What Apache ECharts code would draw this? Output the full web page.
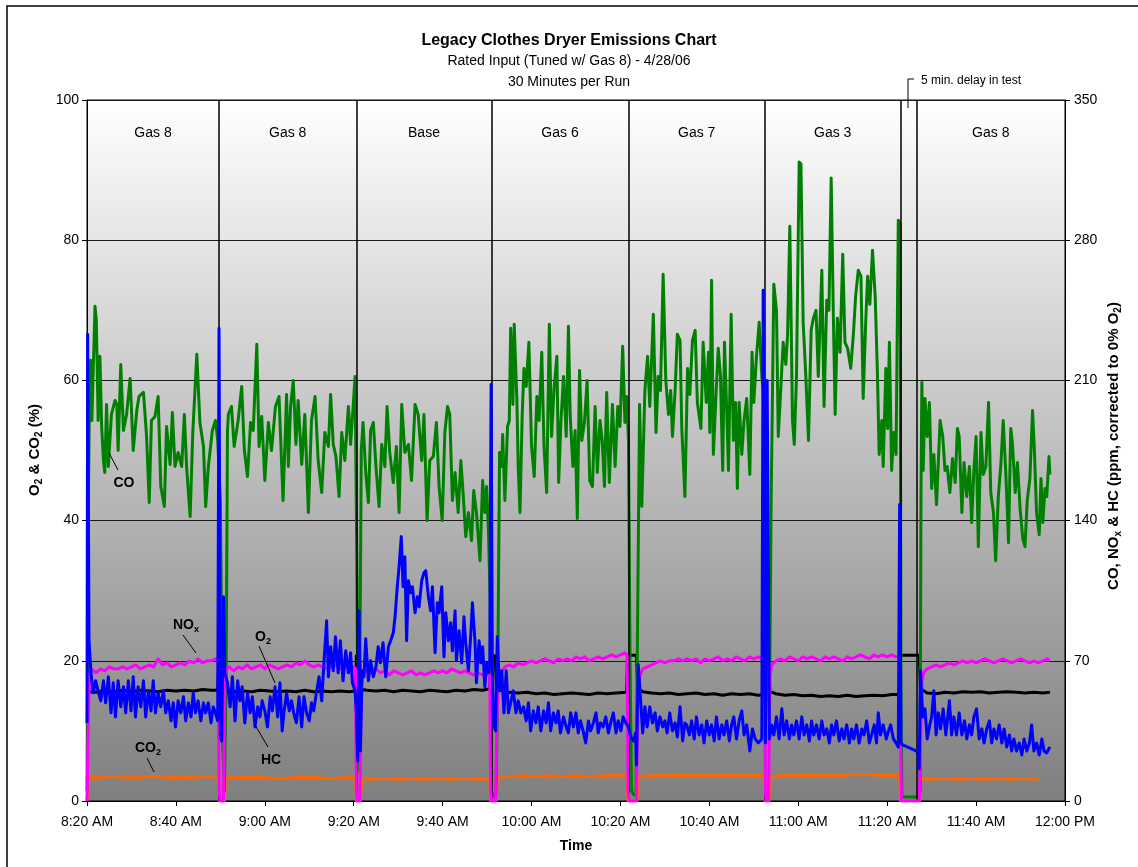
<!DOCTYPE html>
<html>
<head>
<meta charset="utf-8">
<script src="https://cdn.jsdelivr.net/npm/echarts@6/dist/echarts.min.js"></script>
<style>
  html, body { margin: 0; padding: 0; background: #fff; }
  #chart { width: 1138px; height: 867px; }
</style>
</head>
<body>
<div id="chart"></div>
<script>
// Clock time of the first sample, in minutes after midnight (8:20 AM).
const START = 500;

// Run boundaries and run names (minutes after 8:20 AM).
const runStarts = [0, 29.7, 60.6, 91.0, 121.8, 152.5, 186.6];
const runEnds   = [29.7, 60.6, 91.0, 121.8, 152.5, 183.0, 220];
const runNames  = ['Gas 8', 'Gas 8', 'Base', 'Gas 6', 'Gas 7', 'Gas 3', 'Gas 8'];
const boundaries = [29.7, 60.6, 91.0, 121.8, 152.5, 183.0, 186.6];

// CO, ppm (corrected to 0% O2)
const coT = [0.0,0.3,0.5,0.8,1.1,1.4,1.8,2.1,2.5,2.9,3.3,3.7,4.0,4.4,4.8,5.5,6.3,6.7,7.0,7.6,8.2,8.9,9.7,10.4,11.2,11.7,12.7,13.4,14.0,14.5,15.3,16.0,16.6,17.4,17.9,18.7,19.2,19.8,20.5,21.3,21.9,22.4,23.2,23.8,24.7,25.4,26.2,26.7,27.3,28.2,28.9,29.4,30.0,30.5,30.9,31.3,31.6,31.8,32.5,33.1,34.0,34.8,35.4,36.1,36.8,37.4,38.2,38.7,39.3,40.0,40.8,41.5,42.4,43.2,44.1,44.9,45.3,45.8,46.4,47.0,47.5,48.3,49.0,49.8,50.5,51.3,52.0,52.8,53.5,54.3,54.8,55.4,56.0,56.7,57.3,58.0,58.8,59.3,59.9,60.3,60.7,61.0,61.3,61.7,62.1,62.7,63.3,63.8,64.4,65.0,65.7,66.3,67.0,67.5,68.1,68.9,69.6,70.2,70.8,71.5,72.3,73.0,73.8,74.5,75.3,75.8,76.5,77.1,77.9,78.6,79.2,79.9,80.5,81.1,81.6,82.2,82.8,83.5,84.1,84.6,85.2,85.8,86.5,87.0,87.6,88.4,89.0,89.5,89.9,90.3,90.7,91.0,91.5,92.0,92.4,92.8,93.3,93.5,94.0,94.6,95.0,95.3,95.8,96.1,96.7,97.0,97.4,97.9,98.3,98.8,99.4,100.0,100.6,101.2,101.7,102.3,102.8,103.4,104.0,104.5,105.1,105.7,106.1,106.6,107.2,107.8,108.3,108.7,109.3,109.8,110.3,110.8,111.3,111.9,112.5,113.1,113.7,114.3,114.8,115.4,115.9,116.4,116.9,117.5,118.2,118.8,119.4,119.9,120.5,121.0,121.4,121.8,122.2,122.5,123.0,123.5,123.9,124.3,124.8,125.5,126.1,126.6,127.4,128.0,128.5,129.0,129.6,130.2,130.8,131.3,131.7,132.3,132.8,133.4,133.8,134.5,135.1,135.6,136.2,136.8,137.3,138.1,138.6,139.3,139.8,140.1,140.5,140.9,141.5,142.0,142.5,143.0,143.4,143.9,144.3,144.9,145.4,145.9,146.3,146.7,147.3,147.8,148.4,149.1,149.6,150.0,150.6,151.2,151.8,152.3,152.8,153.2,153.5,153.9,154.5,155.1,155.5,156.0,156.6,157.2,157.6,158.1,158.7,159.1,159.6,160.2,160.6,161.1,161.7,162.3,162.9,163.4,164.0,164.5,165.3,165.8,166.4,166.9,167.4,167.9,168.3,168.8,169.4,170.0,170.5,171.1,171.8,172.4,172.9,173.5,174.1,174.6,175.2,175.6,176.1,176.7,177.3,177.8,178.2,178.8,179.1,179.7,180.1,180.5,181.0,181.5,182.0,182.5,182.9,183.1,183.3,184.0,185.0,186.0,187.0,187.4,187.6,187.8,188.1,188.5,189.0,189.5,190.0,190.5,191.1,191.9,192.5,193.0,193.5,194.1,194.7,195.3,195.8,196.2,196.8,197.3,197.9,198.5,199.0,199.5,200.0,200.5,201.1,201.6,202.2,202.8,203.3,203.9,204.4,205.0,205.6,206.1,206.7,207.3,207.8,208.2,208.8,209.3,209.9,210.5,211.0,211.5,212.1,212.7,213.1,213.6,214.2,214.6,215.0,215.5,215.9,216.4,216.6];
const coV = [5,150,188,220,190,215,247,240,190,222,187,170,164,198,167,193,200,198,175,218,185,193,211,175,195,202,204,182,149,190,192,202,157,147,187,168,194,167,174,167,193,167,142,184,223,189,177,147,167,185,190,180,150,30,5,60,185,193,197,177,190,207,175,162,189,185,228,177,192,160,189,175,197,202,150,203,167,197,210,178,200,168,193,144,190,202,170,154,184,177,203,178,172,152,184,170,197,178,198,212,120,15,40,175,189,164,149,185,189,167,147,178,167,197,174,159,177,144,198,174,178,160,198,193,170,193,140,170,172,189,157,140,184,197,193,150,164,144,170,154,132,144,130,155,144,120,160,144,157,135,100,5,2,3,60,174,167,183,150,187,190,236,198,238,200,167,144,193,216,207,229,177,162,202,190,224,177,154,238,182,207,222,159,189,212,182,237,192,167,185,141,215,180,189,210,160,157,197,164,190,180,157,204,159,198,167,197,187,227,189,202,180,60,5,3,3,100,198,147,205,222,197,243,184,212,205,263,210,193,205,182,205,233,230,186,152,216,203,230,235,199,186,229,199,224,184,260,173,203,226,212,165,229,195,165,243,180,199,156,199,173,190,201,163,224,199,222,239,212,200,150,60,40,150,258,245,182,203,229,218,233,287,190,178,212,319,318,239,212,180,235,241,245,212,265,197,250,245,311,241,193,241,224,273,229,226,216,233,252,265,262,201,241,262,248,275,252,214,173,190,167,216,186,229,165,184,173,290,288,60,2,2,2,2,2,5,150,209,165,201,182,199,156,173,148,190,182,165,167,154,171,159,186,182,144,169,152,167,139,165,182,127,184,163,167,199,154,144,120,152,169,190,163,129,186,178,154,169,146,131,127,150,161,195,176,144,133,161,139,156,152,172,163];

// NOx, ppm (corrected to 0% O2)
const noxT = [0.0,0.3,0.6,1,2,3,4,5,6,7,8,9,10,11,12,13,14,15,16,17,18,19,20,21,22,23,24,25,26,27,28,29,29.5,29.7,30.0,30.7,31.0,31.5,32,33,34,35,36,37,38,39,40,41,42,43,44,45,46,47,48,49,50,51,52,53,54,55,56,57,58,59,60,60.4,60.6,60.8,61.4,61.7,62,63,64,65,66,67,68,69,70,71,72,73,74,75,76,77,78,79,80,81,82,83,84,85,86,87,88,89,90,90.6,90.8,91.0,91.9,92.2,92.6,93,94,95,96,97,98,99,100,101,102,103,104,105,106,107,108,109,110,111,112,113,114,115,116,117,118,119,120,121,121.5,121.7,122.0,123.6,123.9,124.3,125,126,127,128,129,130,131,132,133,134,135,136,137,138,139,140,141,142,143,144,145,146,147,148,149,150,151,152,152.4,152.6,152.8,153.3,153.6,154,155,156,157,158,159,160,161,162,163,164,165,166,167,168,169,170,171,172,173,174,175,176,177,178,179,180,181,182,182.8,183.0,183.2,187.2,187.4,187.8,188.2,189,190,191,192,193,194,195,196,197,198,199,200,201,202,203,204,205,206,207,208,209,210,211,212,213,214,215,216,216.6];
const noxV = [0,40,64,66,64,66,65,67,66,66,67,66,67,68,66,67,68,67,71,68,69,67,68,69,68,70,69,71,69,70,70,71,70,5,0,0,62,66,67,65,67,66,68,66,67,68,66,68,67,66,67,68,67,69,68,70,68,67,68,67,66,67,68,66,67,66,67,66,5,0,0,60,64,65,64,66,64,65,63,65,64,63,64,65,63,64,63,64,65,64,65,64,66,65,64,65,64,63,64,63,63,63,5,0,0,40,60,64,67,68,67,69,68,69,70,69,70,71,70,69,71,70,71,70,72,71,72,70,71,72,71,72,73,72,73,74,73,5,0,0,50,62,66,67,68,69,70,69,70,70,71,70,71,70,71,69,71,70,71,72,70,71,70,72,71,70,72,71,72,71,72,5,0,0,62,68,70,71,70,72,71,70,72,71,72,71,70,72,71,72,71,70,72,71,72,73,72,71,73,72,73,72,73,72,72,30,0,0,16,60,64,66,67,68,67,68,69,68,69,70,69,70,69,70,71,70,69,70,71,70,69,70,71,70,69,70,69,70,71,70];

// HC, ppm (corrected to 0% O2)
const hcT = [0.0,0.15,0.45,0.9,1.4,1.95,2.5,3.1,3.7,4.2,4.8,5.4,5.9,6.4,7.0,7.6,8.2,8.7,9.3,9.9,10.4,10.9,11.5,12.1,12.7,13.2,13.8,14.4,14.9,15.4,16.0,16.6,17.2,17.7,18.3,18.9,19.4,19.9,20.5,21.1,21.7,22.2,22.8,23.4,23.9,24.4,25.0,25.6,26.2,26.7,27.3,27.9,28.4,28.9,29.4,29.7,30.0,30.3,30.7,31.0,31.6,32.2,32.7,33.3,33.9,34.4,34.9,35.5,36.1,36.7,37.2,37.8,38.4,38.9,39.4,40.0,40.6,41.2,41.7,42.3,42.9,43.4,43.9,44.3,44.9,45.5,46.0,46.5,47.1,47.7,48.3,48.8,49.4,50.0,50.5,51.0,51.6,52.2,52.8,53.3,53.9,54.3,54.8,55.4,55.9,56.5,57.0,57.6,58.2,58.8,59.3,59.7,60.3,60.6,60.9,61.2,61.5,61.9,62.3,62.7,63.3,63.8,64.4,65.0,65.5,66.0,66.6,67.2,67.8,68.3,68.9,69.3,69.8,70.2,70.7,71.1,71.5,71.9,72.3,72.8,73.2,73.8,74.3,74.7,75.3,75.8,76.2,76.8,77.3,77.7,78.3,78.8,79.2,79.8,80.3,80.7,81.3,81.8,82.2,82.8,83.1,83.7,84.3,84.8,85.2,85.8,86.3,86.7,87.3,87.6,88.2,88.6,89.0,89.5,89.9,90.3,90.6,90.9,91.2,91.5,91.9,92.3,92.8,93.3,93.8,94.3,94.8,95.3,95.9,96.5,97.0,97.6,98.2,98.8,99.3,99.8,100.4,101.0,101.5,102.1,102.7,103.3,103.8,104.3,104.9,105.5,106.0,106.5,107.2,107.8,108.3,108.8,109.4,110.0,110.5,111.0,111.6,112.2,112.8,113.3,113.9,114.5,115.0,115.5,116.1,116.7,117.3,117.8,118.4,119.0,119.5,120.1,120.6,121.2,121.8,122.3,122.9,123.4,123.6,124.0,124.4,125.0,125.5,126.0,126.6,127.2,127.8,128.3,128.9,129.5,130.0,130.5,131.1,131.7,132.3,132.8,133.4,134.0,134.5,134.9,135.5,136.0,136.6,137.1,137.7,138.3,138.8,139.4,140.0,140.5,141.1,141.6,142.2,142.8,143.3,143.9,144.5,145.0,145.5,146.1,146.7,147.3,147.8,148.4,149.1,149.7,150.3,151.0,151.8,152.1,152.6,153.0,153.5,154.0,154.5,155.1,155.7,156.3,156.8,157.4,158.0,158.5,159.0,159.6,160.2,160.8,161.3,161.9,162.5,163.0,163.5,164.1,164.7,165.3,165.8,166.4,167.0,167.5,168.0,168.6,169.2,169.8,170.3,170.9,171.5,172.0,172.5,173.1,173.7,174.3,174.8,175.4,176.0,176.5,177.1,177.6,178.0,178.5,179.1,179.8,180.3,180.8,181.4,182.0,182.5,182.8,183.1,183.5,184.5,185.5,186.5,187.0,187.2,187.5,188.0,188.5,189.0,189.6,190.0,190.5,191.0,191.5,192.0,192.6,193.2,194.0,194.5,195.0,195.6,196.2,196.8,197.4,197.9,198.5,199.0,199.5,200.1,200.7,201.3,201.8,202.4,203.0,203.5,204.0,204.6,205.2,205.8,206.3,206.9,207.5,208.0,208.5,209.1,209.7,210.3,210.8,211.4,212.0,212.5,213.0,213.6,214.2,214.8,215.3,215.9,216.6];
const hcV = [39,233,80,64,54,60,55,50,60,49,62,44,59,42,60,47,57,44,60,45,62,42,57,47,60,42,55,45,60,44,54,47,55,44,50,40,49,37,50,44,52,40,49,42,54,44,50,40,49,44,49,39,47,44,40,236,32,30,102,64,59,47,62,40,60,50,57,39,54,44,52,37,47,42,50,45,37,52,45,57,42,59,35,44,54,45,50,44,39,52,37,52,44,40,49,45,54,62,50,69,90,62,77,65,82,64,80,60,75,64,74,59,55,44,20,95,25,65,62,81,60,70,62,67,77,69,79,62,77,80,84,92,107,117,132,107,122,80,110,104,107,94,102,97,110,114,115,102,95,107,74,99,94,107,72,94,80,89,75,95,70,85,69,92,79,65,82,99,79,59,80,69,77,57,69,64,67,208,60,38,35,82,55,65,44,65,44,49,55,44,50,44,47,40,49,35,45,39,47,35,45,39,49,35,44,39,45,34,42,37,34,44,37,44,34,40,35,29,40,35,39,44,34,39,37,42,34,39,44,34,40,35,42,39,37,32,30,34,18,68,55,34,47,37,47,39,44,35,42,37,40,34,44,35,39,32,47,30,39,38,33,40,31,42,33,38,29,40,33,38,30,42,31,38,33,40,30,38,42,31,40,45,33,38,25,36,31,29,31,255,29,210,31,38,33,42,31,46,33,40,31,38,33,40,31,42,33,38,30,40,33,38,31,40,33,36,29,38,33,40,30,36,31,38,29,36,31,38,29,36,33,40,29,33,38,29,44,33,38,31,35,38,31,29,27,148,29,28,27,26,25,24,16,65,42,46,31,38,42,55,33,44,36,46,33,50,33,42,33,44,33,40,31,38,33,42,46,31,36,29,36,40,29,36,31,38,29,36,27,33,25,31,25,29,23,31,25,29,38,25,29,23,31,25,24,27];

// O2, percent
const o2T = [0.5,2,4,6,8,10,12,14,16,18,20,22,24,26,28,29.4,29.7,30.5,30.9,31.5,33,35,37,39,41,43,45,47,49,51,53,55,57,59,60.4,60.6,61.3,61.6,63,65,67,69,71,73,75,77,79,81,83,85,87,89,90.6,90.8,91.8,92.1,93,95,97,99,101,103,105,107,109,111,113,115,117,119,121.4,121.6,123.6,123.9,125,127,129,131,133,135,137,139,141,143,145,147,149,151,152.3,152.5,153.3,153.6,155,157,159,161,163,165,167,169,171,173,175,177,179,181,182.8,183.0,187.2,187.5,189,191,193,195,197,199,201,203,205,207,209,211,213,215,216.6];
const o2V = [15.6,15.5,15.7,15.6,15.8,15.6,15.8,15.7,15.6,15.8,15.7,15.8,15.7,15.9,15.8,15.8,20.7,20.8,16.0,15.8,15.6,15.7,15.6,15.8,15.7,15.6,15.7,15.6,15.8,15.6,15.7,15.6,15.7,15.6,15.7,20.7,20.7,15.9,15.8,15.7,15.8,15.6,15.8,15.7,15.6,15.8,15.7,15.6,15.8,15.7,15.9,15.8,16.0,20.7,20.7,16.2,15.8,15.5,15.4,15.5,15.3,15.4,15.2,15.3,15.4,15.3,15.2,15.4,15.3,15.4,15.5,20.8,20.8,16.0,15.6,15.4,15.3,15.4,15.2,15.3,15.4,15.2,15.3,15.1,15.3,15.2,15.3,15.1,15.2,20.7,20.7,15.6,15.3,15.1,15.2,15.0,15.1,14.9,15.0,14.9,15.1,14.9,15.0,15.1,15.0,15.2,15.2,20.8,20.8,16.0,15.4,15.3,15.5,15.4,15.6,15.5,15.6,15.4,15.5,15.6,15.5,15.4,15.5,15.4,15.5];

// CO2, percent
const co2T = [0.0,0.4,3,6,9,12,15,18,21,24,27,29.5,29.7,30.9,31.2,34,37,40,43,46,49,52,55,58,60.4,60.6,61.5,61.8,64,67,70,73,76,79,82,85,88,90.6,90.8,92.0,92.3,95,98,101,104,107,110,113,116,119,121.5,121.7,123.7,124.0,127,130,133,136,139,142,145,148,151,152.3,152.5,153.4,153.7,156,159,162,165,168,171,174,177,180,182.8,183.0,187.3,187.6,190,193,196,199,202,205,208,211,214,216.6];
const co2V = [0,3.3,3.4,3.5,3.4,3.4,3.5,3.4,3.3,3.4,3.5,3.4,0,0,3.3,3.3,3.4,3.3,3.2,3.3,3.4,3.3,3.2,3.3,3.3,0,0,3.2,3.1,3.2,3.1,3.2,3.1,3.2,3.1,3.2,3.1,3.2,0,0,3.4,3.5,3.6,3.5,3.6,3.5,3.6,3.5,3.6,3.6,3.6,0,0,3.5,3.6,3.7,3.6,3.7,3.6,3.7,3.6,3.7,3.6,3.6,0,0,3.5,3.6,3.7,3.6,3.7,3.6,3.7,3.8,3.7,3.6,3.7,0,0,3.2,3.1,3.2,3.1,3.2,3.1,3.2,3.1,3.2,3.1];

// Axis scales and tick labels
const xMin = 500, xMax = 720, xStep = 20;
const leftMax = 100, leftStep = 20;
const rightMax = 350, rightStep = 70;
const runLabelLevel = 95.3;   // O2 & CO2 scale position of the run names

const FONT = '"Liberation Sans", Arial, Helvetica, sans-serif';

function pairs(t, v) { return t.map((m, i) => [START + m, v[i]]); }

function clock(min) {
  let h = Math.floor(min / 60), m = Math.round(min % 60);
  const ap = h >= 12 ? 'PM' : 'AM';
  if (h > 12) h -= 12;
  return h + ':' + (m < 10 ? '0' : '') + m + ' ' + ap;
}

const chart = echarts.init(document.getElementById('chart'), null, { renderer: 'canvas' });

const lineSeries = (name, t, v, color, yIndex, z) => ({
  name, type: 'line', xAxisIndex: 0, yAxisIndex: yIndex,
  data: pairs(t, v), showSymbol: false, symbol: 'none', sampling: null,
  lineStyle: { color, width: 3, join: 'round' }, itemStyle: { color },
  z, animation: false, silent: true
});

const runLabelData = runNames.map((n, i) => ({
  value: [START + (runStarts[i] + runEnds[i]) / 2, runLabelLevel], name: n
}));

const subRich = (color, size) => ({
  a: { fontFamily: FONT, fontSize: size, fontWeight: 'bold', color, lineHeight: size + 4 },
  s: { fontFamily: FONT, fontSize: Math.round(size * 0.65), fontWeight: 'bold', color,
       lineHeight: Math.round(size * 0.65), verticalAlign: 'bottom' }
});

const leader = (x1, y1, x2, y2) => ({
  type: 'line', silent: true, z: 100,
  shape: { x1, y1, x2, y2 }, style: { stroke: '#000', lineWidth: 1 }
});
const tag = (x, y, text, color) => ({
  type: 'text', silent: true, z: 100, x, y,
  style: { text, rich: subRich(color, 14), align: 'center', verticalAlign: 'middle' }
});

const option = {
  animation: false,
  backgroundColor: '#ffffff',
  title: {
    text: 'Legacy Clothes Dryer Emissions Chart',
    subtext: 'Rated Input (Tuned w/ Gas 8) - 4/28/06\n30 Minutes per Run',
    left: 'center', top: 28, itemGap: 2,
    textStyle: { fontFamily: FONT, fontSize: 16, fontWeight: 'bold', color: '#000' },
    subtextStyle: { fontFamily: FONT, fontSize: 14, color: '#000', lineHeight: 21 }
  },
  grid: {
    left: 87, right: 73, top: 100, bottom: 66, show: true,
    borderColor: '#000', borderWidth: 1,
    backgroundColor: new echarts.graphic.LinearGradient(0, 0, 0, 1, [
      { offset: 0, color: '#ffffff' }, { offset: 1, color: '#7f7f7f' }
    ])
  },
  xAxis: {
    type: 'value', min: xMin, max: xMax, interval: xStep,
    name: 'Time', nameLocation: 'middle', nameGap: 38,
    nameTextStyle: { fontFamily: FONT, fontSize: 14, fontWeight: 'bold', color: '#000' },
    axisLine: { onZero: false, lineStyle: { color: '#000', width: 1 } },
    axisTick: { inside: false, length: 5, lineStyle: { color: '#000' } },
    axisLabel: { fontFamily: FONT, fontSize: 14, color: '#000', margin: 14,
      showMinLabel: true, showMaxLabel: true, formatter: v => clock(v) },
    splitLine: { show: false }
  },
  yAxis: [
    {
      type: 'value', min: 0, max: leftMax, interval: leftStep, position: 'left',
      axisLine: { show: true, lineStyle: { color: '#000', width: 1 } },
      axisTick: { show: true, length: 5, lineStyle: { color: '#000' } },
      axisLabel: { fontFamily: FONT, fontSize: 14, color: '#000', margin: 8 },
      splitLine: { show: true, lineStyle: { color: '#1a1a1a', width: 1 } }
    },
    {
      type: 'value', min: 0, max: rightMax, interval: rightStep, position: 'right',
      axisLine: { show: true, lineStyle: { color: '#000', width: 1 } },
      axisTick: { show: true, length: 5, lineStyle: { color: '#000' } },
      axisLabel: { fontFamily: FONT, fontSize: 14, color: '#000', margin: 9 },
      splitLine: { show: false }
    }
  ],
  series: [
    {
      name: 'runs', type: 'scatter', xAxisIndex: 0, yAxisIndex: 0,
      data: runLabelData, symbolSize: 0, silent: true, z: 1,
      itemStyle: { opacity: 1, color: 'rgba(0,0,0,0)' },
      label: { show: true, position: 'inside', formatter: p => p.name, opacity: 1,
        fontFamily: FONT, fontSize: 14, color: '#000000' },
      markLine: {
        silent: true, symbol: 'none', animation: false,
        lineStyle: { color: '#000', width: 1.5, type: 'solid' },
        label: { show: false },
        data: boundaries.map(b => ({ xAxis: START + b }))
      }
    },
    lineSeries('O2', o2T, o2V, '#000000', 0, 3),
    lineSeries('CO2', co2T, co2V, '#ff6600', 0, 3),
    lineSeries('CO', coT, coV, '#008000', 1, 4),
    lineSeries('NOx', noxT, noxV, '#ff00ff', 1, 5),
    lineSeries('HC', hcT, hcV, '#0000ff', 1, 6)
  ],
  graphic: [
    // outer frame
    { type: 'rect', silent: true, z: 0, shape: { x: 7, y: 6, width: 1145, height: 875 },
      style: { fill: null, stroke: '#000', lineWidth: 1.5 } },
    // axis titles
    { type: 'text', silent: true, x: 35, y: 450, rotation: Math.PI / 2,
      style: { text: '{a|O}{s|2}{a| & CO}{s|2}{a| (%)}', rich: subRich('#000', 15),
        align: 'center', verticalAlign: 'middle' } },
    { type: 'text', silent: true, x: 1114, y: 446, rotation: Math.PI / 2,
      style: { text: '{a|CO, NO}{s|x}{a| & HC (ppm, corrected to 0% O}{s|2}{a|)}', rich: subRich('#000', 15),
        align: 'center', verticalAlign: 'middle' } },
    // delay note
    { type: 'polyline', silent: true, z: 100,
      shape: { points: [[914, 79], [908, 79], [908, 108]] },
      style: { stroke: '#000', lineWidth: 1, fill: null } },
    { type: 'text', silent: true, z: 100, x: 921, y: 81,
      style: { text: '5 min. delay in test', fontFamily: FONT, fontSize: 12, fill: '#000',
        align: 'left', verticalAlign: 'middle' } },
    // series tags
    leader(109, 453, 118, 470), tag(124, 483, '{a|CO}', '#008000'),
    leader(183, 635, 196, 653), tag(186, 625, '{a|NO}{s|x}', '#ff00ff'),
    leader(259, 646, 275, 683), tag(263, 637, '{a|O}{s|2}', '#000000'),
    leader(255, 725, 268, 747), tag(271, 760, '{a|HC}', '#0000ff'),
    leader(147, 758, 154, 772), tag(148, 748, '{a|CO}{s|2}', '#ff6600')
  ]
};

chart.setOption(option);
</script>
</body>
</html>
